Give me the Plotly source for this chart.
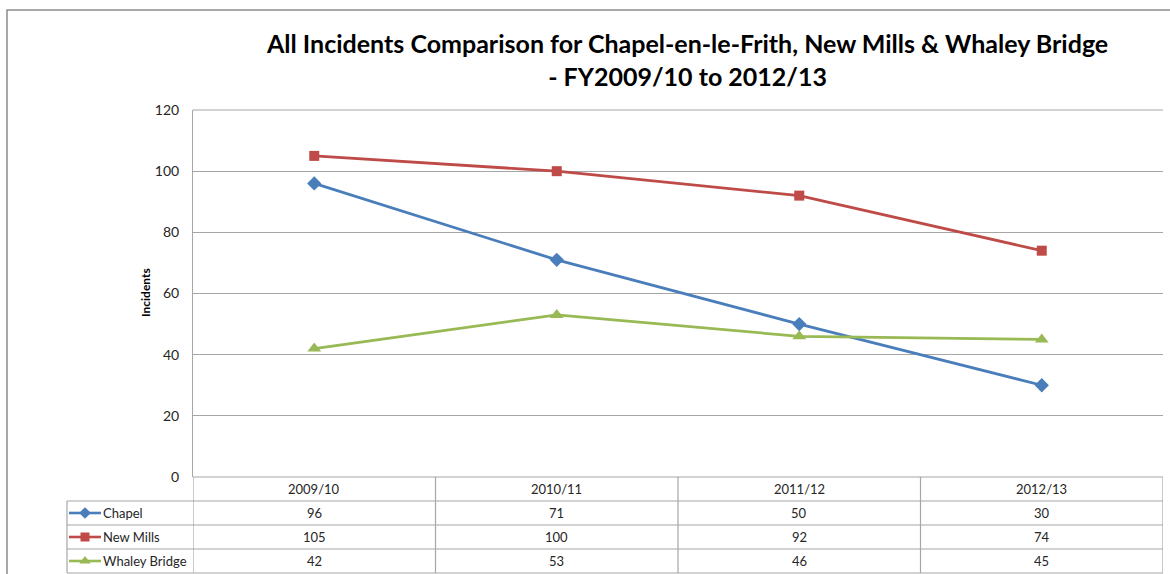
import plotly.graph_objects as go

categories = ["2009/10", "2010/11", "2011/12", "2012/13"]
chapel = [96, 71, 50, 30]
new_mills = [105, 100, 92, 74]
whaley_bridge = [42, 53, 46, 45]
series_names = ["Chapel", "New Mills", "Whaley Bridge"]
series_values = [chapel, new_mills, whaley_bridge]
colors = ["#4A7EBB", "#BE4B48", "#98B954"]
symbols = ["diamond", "square", "triangle-up"]
marker_sizes = [11, 10, 12]
key_marker_sizes = [9, 9, 10]
y_ticks = [0, 20, 40, 60, 80, 100, 120]

W, H = 1170, 574
def px(x):
    return x / W
def py(y):
    return (H - y) / H

FONT = "Lato, Calibri, Carlito, Liberation Sans"
GRID = "#A6A6A6"
TBL = "#A6A6A6"
TXT = "#262626"

x_left, x_right = 193, 1163
y_top, y_axis = 110, 477
row_tops = [477, 501, 525, 549, 573]
tbl_left = 67

fig = go.Figure()
xs = list(range(len(categories)))
for i, (name, vals) in enumerate(zip(series_names, series_values)):
    fig.add_trace(go.Scatter(
        x=xs, y=vals, name=name, mode="lines+markers",
        line=dict(color=colors[i], width=2.8),
        marker=dict(symbol=symbols[i], size=marker_sizes[i], color=colors[i], line=dict(width=0)),
        showlegend=False, cliponaxis=False,
    ))
# legend keys inside the data table's first column (second axes, pixel units)
for i, name in enumerate(series_names):
    fig.add_trace(go.Scatter(
        x=[2, 18, 34], y=[i, i, i], xaxis="x2", yaxis="y2", mode="lines",
        line=dict(color=colors[i], width=2.6), showlegend=False, hoverinfo="skip",
    ))
    fig.add_trace(go.Scatter(
        x=[18], y=[i], xaxis="x2", yaxis="y2", mode="markers",
        marker=dict(symbol=symbols[i], size=key_marker_sizes[i], color=colors[i], line=dict(width=0)),
        showlegend=False, hoverinfo="skip",
    ))

shapes = []
shapes.append(dict(type="rect", xref="paper", yref="paper", x0=px(7), x1=1.05,
                   y0=-0.05, y1=py(10), line=dict(color="#8C8C8C", width=1.5)))
shapes.append(dict(type="line", xref="paper", yref="paper", x0=px(x_left), x1=px(x_right),
                   y0=py(y_top), y1=py(y_top), line=dict(color=GRID, width=1)))
for j, yt in enumerate(row_tops):
    x0 = x_left if j == 0 else tbl_left
    shapes.append(dict(type="line", xref="paper", yref="paper", x0=px(x0), x1=px(x_right),
                       y0=py(yt), y1=py(yt), line=dict(color=TBL, width=1.2)))
for k in range(len(categories) + 1):
    shapes.append(dict(type="line", xref="x", yref="paper", x0=k - 0.5, x1=k - 0.5,
                       y0=py(row_tops[-1]), y1=py(row_tops[0]), line=dict(color=TBL, width=1.2)))
shapes.append(dict(type="line", xref="paper", yref="paper", x0=px(tbl_left), x1=px(tbl_left),
                   y0=py(row_tops[-1]), y1=py(row_tops[1]), line=dict(color=TBL, width=1.2)))

annotations = []
for k, c in enumerate(categories):
    annotations.append(dict(x=k, y=py((row_tops[0] + row_tops[1]) / 2), xref="x", yref="paper",
                            xanchor="center", yanchor="middle",
                            text=c, showarrow=False, font=dict(family=FONT, size=13, color=TXT)))
for r, vals in enumerate(series_values):
    yc = (row_tops[r + 1] + row_tops[r + 2]) / 2
    for k, v in enumerate(vals):
        annotations.append(dict(x=k, y=py(yc), xref="x", yref="paper", text=str(v),
                                xanchor="center", yanchor="middle",
                                showarrow=False, font=dict(family=FONT, size=13, color=TXT)))
    annotations.append(dict(x=34, y=r, xref="x2", yref="y2", text=series_names[r],
                            xanchor="left", yanchor="middle",
                            showarrow=False, font=dict(family=FONT, size=13, color=TXT)))
annotations.append(dict(x=px(145), y=py(293), xref="paper", yref="paper", text="<b>Incidents</b>",
                        xanchor="center", yanchor="middle",
                        textangle=-90, showarrow=False, font=dict(family=FONT, size=12, color="#000000")))
annotations.append(dict(x=px(687), y=py(59), xref="paper", yref="paper",
                        xanchor="center", yanchor="middle",
                        text="<b>All Incidents Comparison for Chapel-en-le-Frith, New Mills &amp; Whaley Bridge<br>- FY2009/10 to 2012/13</b>",
                        showarrow=False, font=dict(family=FONT, size=25, color="#000000")))

fig.update_layout(
    width=W, height=H, margin=dict(l=0, r=0, t=0, b=0, autoexpand=False),
    paper_bgcolor="white", plot_bgcolor="white", showlegend=False,
    xaxis=dict(domain=[px(x_left), px(x_right)], range=[-0.5, 3.5], showticklabels=False,
               showgrid=False, zeroline=False, showline=False, fixedrange=True, automargin=False),
    yaxis=dict(domain=[py(y_axis), py(y_top)], range=[0, 120], tickvals=y_ticks,
               showgrid=True, gridcolor=GRID, gridwidth=1, zeroline=False,
               showline=True, linecolor=GRID, linewidth=1, ticks="", automargin=False,
               tickfont=dict(family=FONT, size=14, color=TXT), ticklabelstandoff=10, fixedrange=True),
    xaxis2=dict(domain=[px(tbl_left), px(x_left)], range=[0, x_left - tbl_left], visible=False,
                fixedrange=True),
    yaxis2=dict(domain=[py(row_tops[-1]), py(row_tops[1])], range=[2.5, -0.5], visible=False,
                fixedrange=True),
    shapes=shapes, annotations=annotations,
)

fig.write_html("out.html", config={"displayModeBar": False},
               post_script="document.body.style.margin='0';")
